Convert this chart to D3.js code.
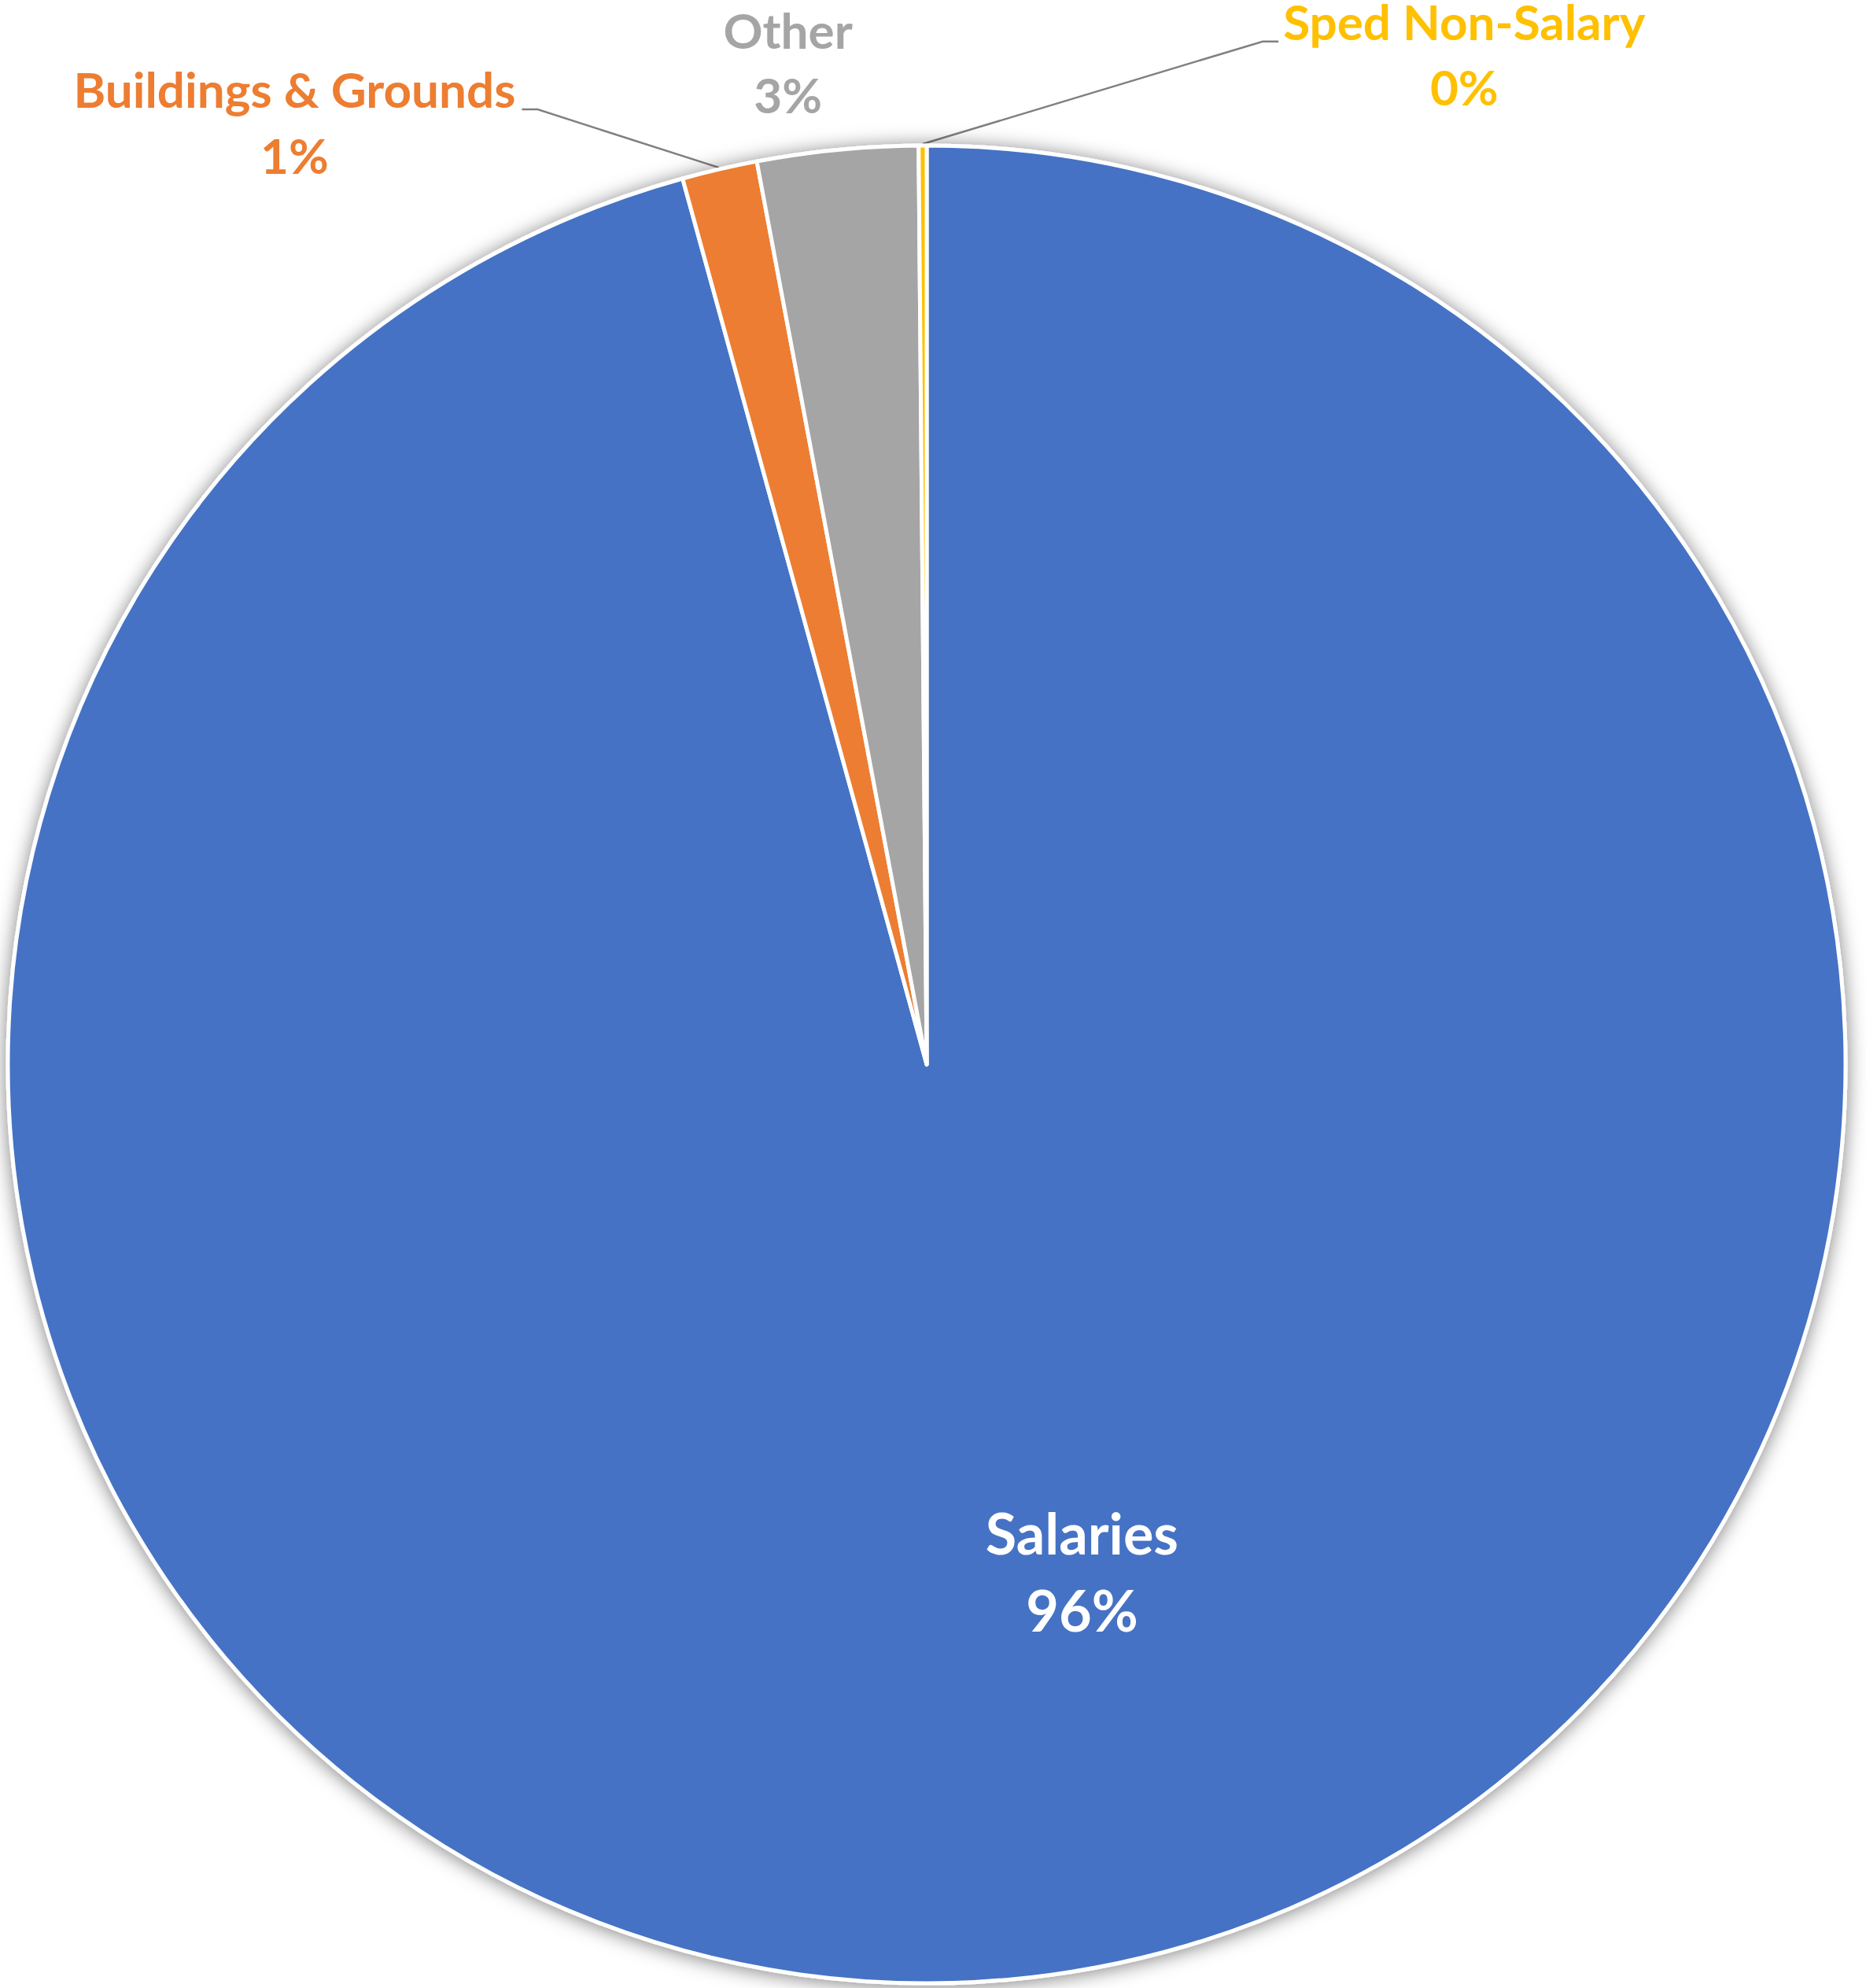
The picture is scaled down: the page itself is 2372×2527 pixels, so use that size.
<!DOCTYPE html>
<html>
<head>
<meta charset="utf-8">
<script src="https://cdn.jsdelivr.net/npm/d3@7"></script>
<style>
	html, body { margin: 0; padding: 0; background: #fff; }
	svg { display: block; }
</style>
</head>
<body>
<div id="vis"></div>
<script>
// data (percent of budget)
const categories = ["Salaries", "Buildings & Grounds", "Other", "Sped Non-Salary"];
const shares = [95.72, 1.32, 2.82, 0.14];
const colors = ["#4472C4", "#ED7D31", "#A5A5A5", "#FFC000"];
const labelColors = ["#FFFFFF", "#ED7D31", "#A5A5A5", "#FFC000"];

const W = 2372;
const H = 2527;

const draw = () => {
	const svg = d3.select("#vis").append("svg")
		.attr("width", W)
		.attr("height", H);

	const cx = 1178;
	const cy = 1353;
	const radius = 1168;

	const defs = svg.append("defs");
	const shadow = defs.append("filter")
		.attr("id", "pie-shadow")
		.attr("x", "-10%").attr("y", "-10%")
		.attr("width", "120%").attr("height", "120%");
	shadow.append("feDropShadow")
		.attr("dx", 0)
		.attr("dy", 2)
		.attr("stdDeviation", 12)
		.attr("flood-color", "#000")
		.attr("flood-opacity", 0.5);

	const data = categories.map((name, i) => ({ name, value: shares[i], i }));

	const pie = d3.pie()
		.sort(null)
		.value(d => d.value);
	const arcs = pie(data);

	const arc = d3.arc()
		.innerRadius(0)
		.outerRadius(radius);

	const g = svg.append("g")
		.attr("transform", `translate(${cx},${cy})`);

	g.append("g")
		.attr("filter", "url(#pie-shadow)")
		.selectAll("path")
		.data(arcs)
		.join("path")
		.attr("d", arc)
		.attr("fill", d => colors[d.data.i])
		.attr("stroke", "#fff")
		.attr("stroke-width", 5)
		.attr("stroke-linejoin", "round");

	// label placement, as fractions of the radius from the centre (x, first baseline)
	const labelPos = [
		{ x: 0.169, y: 0.533, size: 72, gap: 98, leader: false },
		{ x: -0.688, y: -1.041, size: 62, gap: 84, leader: true, side: "right" },
		{ x: -0.151, y: -1.105, size: 62, gap: 82, leader: false },
		{ x: 0.585, y: -1.115, size: 62, gap: 83, leader: true, side: "left" }
	];

	const labels = g.append("g")
		.attr("font-family", "Lato, 'Open Sans', sans-serif")
		.attr("font-weight", 700)
		.attr("text-anchor", "middle");

	arcs.forEach(a => {
		const p = labelPos[a.data.i];
		const lx = p.x * radius;
		const ly = p.y * radius;
		const t = labels.append("text")
			.attr("fill", labelColors[a.data.i])
			.attr("font-size", p.size);
		const first = t.append("tspan")
			.attr("x", lx)
			.attr("y", ly)
			.text(a.data.name);
		t.append("tspan")
			.attr("x", lx)
			.attr("y", ly + p.gap)
			.text(`${Math.round(a.data.value)}%`);

		if (p.leader) {
			const mid = (a.startAngle + a.endAngle) / 2;
			const sx = Math.sin(mid) * (radius + 2);
			const sy = -Math.cos(mid) * (radius + 2);
			const w = first.node().getComputedTextLength();
			const edge = p.side === "right" ? lx + w / 2 + 8 : lx - w / 2 - 6;
			const knee = p.side === "right" ? edge + 20 : edge - 20;
			g.insert("path", ":first-child")
				.attr("d", d3.line()([[edge, ly + 2], [knee, ly + 2], [sx, sy]]))
				.attr("fill", "none")
				.attr("stroke", "#808080")
				.attr("stroke-width", 2.5);
		}
	});
};

draw();
</script>
</body>
</html>
